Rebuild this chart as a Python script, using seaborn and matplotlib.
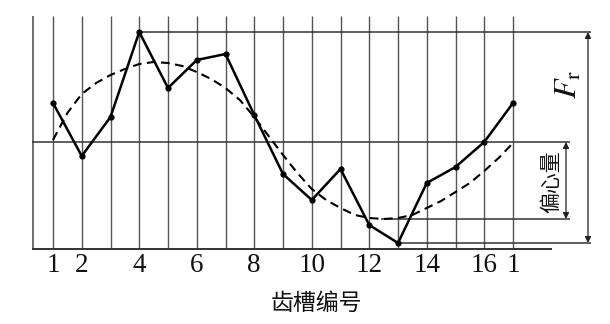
import numpy as np
import pandas as pd
import matplotlib
matplotlib.use("Agg")
import matplotlib.pyplot as plt
import seaborn as sns

# ---- data ----
slots = list(range(1, 18))
runout = [3.9, -1.4, 2.5, 11.0, 5.4, 8.2, 8.8, 2.7, -3.2, -5.8, -2.7, -8.3,
          -10.1, -4.1, -2.5, 0.0, 3.9]
ecc_x = [1.0, 1.5, 2.0, 2.5, 3.0, 3.5, 4.0, 4.5, 5.0, 5.5, 6.0, 6.5, 7.0, 7.5,
         8.0, 8.5, 9.0, 9.5, 10.0, 10.5, 11.0, 11.5, 12.0, 12.5, 13.0, 13.5,
         14.0, 14.5, 15.0, 15.5, 16.0, 16.5, 17.0]
ecc_y = [0.2, 2.9, 4.8, 5.9, 6.7, 7.3, 7.8, 8.0, 7.9, 7.6, 7.0, 6.3, 5.4, 4.2,
         2.5, 0.6, -1.3, -3.1, -4.7, -5.8, -6.6, -7.3, -7.6, -7.7, -7.6, -7.3,
         -6.6, -5.9, -5.0, -4.1, -2.9, -1.6, -0.1]
tick_pos = [1, 2, 4, 6, 8, 10, 12, 14, 16, 17]
tick_labels = ["1", "2", "4", "6", "8", "10", "12", "14", "16", "1"]
xlabel = "齿槽编号"
ecc_label = "偏心量"

df = pd.DataFrame({"slot": slots, "runout": runout})
de = pd.DataFrame({"x": ecc_x, "y": ecc_y})

sns.set_theme(style="white")
plt.rcParams["font.family"] = ["Noto Sans CJK SC", "DejaVu Sans"]
plt.rcParams["mathtext.fontset"] = "stix"

W, H = 610, 324
fig = plt.figure(figsize=(W / 100, H / 100), dpi=100)
L, R, T, B = 32, 600, 10, 249
ax = fig.add_axes([L / W, 1 - B / H, (R - L) / W, (B - T) / H])

def px2x(p):
    return 1 + (p - 53) / 28.75

def py2v(p):
    return (142 - p) / 10

ax.set_xlim(px2x(L), px2x(R))
ax.set_ylim(py2v(B), py2v(T))
for s in ax.spines.values():
    s.set_visible(False)
ax.set_yticks([])

grid_c = "#555555"
ybot, ytop = py2v(B), py2v(16)
# vertical grid lines at each slot and left border
ax.vlines(slots, ybot, ytop, color=grid_c, lw=1.0, zorder=1)
ax.vlines([px2x(L + 0.5)], ybot, ytop, color=grid_c, lw=1.2, zorder=1, clip_on=False)
# bottom baseline
ax.hlines([ybot], px2x(L), px2x(552), color="#333333", lw=1.4, zorder=1, clip_on=False)

vmax = max(runout)
vmin = min(runout)
emin = min(ecc_y)
i_max = runout.index(vmax)
i_min = runout.index(vmin)
# reference horizontals
ax.hlines([vmax], slots[i_max], px2x(591), color="#333333", lw=1.1, zorder=1)
ax.hlines([vmin], slots[i_min], px2x(591), color="#333333", lw=1.1, zorder=1)
ax.hlines([0.0], px2x(L), px2x(570), color="#333333", lw=1.1, zorder=1)
ax.hlines([emin], 12.4, px2x(570), color="#333333", lw=1.1, zorder=1)

# eccentricity curve (dashed)
sns.lineplot(data=de, x="x", y="y", ax=ax, color="black", lw=1.5,
             dashes=False, zorder=3, sort=False)
ax.lines[-1].set_dashes([4.2, 2.6])

# radial runout polyline
sns.lineplot(data=df, x="slot", y="runout", ax=ax, color="black", lw=1.8,
             marker="o", markersize=4.5, markeredgewidth=0, zorder=4, sort=False)

# arrows
arr = dict(arrowstyle="<|-|>", lw=0.9, color="#222222", mutation_scale=9,
           shrinkA=0, shrinkB=0)
ax.annotate("", xy=(px2x(588), vmax), xytext=(px2x(588), vmin),
            arrowprops=arr, annotation_clip=False)
ax.annotate("", xy=(px2x(566), 0.0), xytext=(px2x(566), emin),
            arrowprops=arr, annotation_clip=False)

ax.text(px2x(568), py2v(84), r"$F_\mathrm{r}$", rotation=90, ha="center",
        va="center", fontsize=23, color="#111111")
ax.text(px2x(551), py2v(182), ecc_label, rotation=90, ha="center",
        va="center", fontsize=15, color="#111111")

ax.set_xticks(tick_pos)
ax.set_xticklabels(tick_labels, fontfamily="Liberation Serif", fontsize=19.5,
                   color="#111111")
ax.tick_params(axis="x", length=0, pad=3)
ax.set_xlabel("")
ax.set_ylabel("")
fig.text(316 / W, 1 - 303 / H, xlabel, ha="center", va="center",
         fontsize=16.5, color="#111111")

fig.savefig("out.png", dpi=100, facecolor="white")
